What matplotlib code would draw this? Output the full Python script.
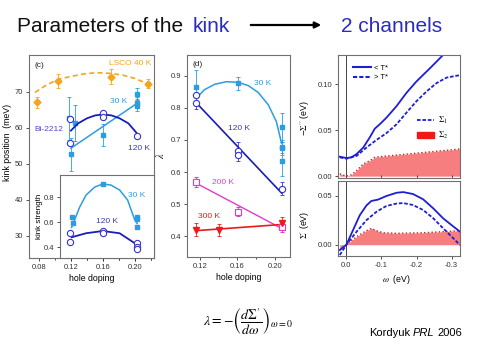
import numpy as np
import matplotlib
matplotlib.use('Agg')
from matplotlib import pyplot as plt
from matplotlib.lines import Line2D
from matplotlib.patches import Patch, FancyArrowPatch
from matplotlib.ticker import FormatStrFormatter, MultipleLocator

plt.rcParams['font.family'] = ['Liberation Sans', 'DejaVu Sans']
plt.rcParams['mathtext.fontset'] = 'stix'
plt.rcParams['axes.unicode_minus'] = False

# ---- panel (c): kink position vs doping ----
lsco_x = [0.077, 0.104, 0.170, 0.216]
lsco_y = [67.1, 73.0, 74.2, 72.2]
lsco_err = [1.5, 2.0, 2.0, 1.3]
lsco_fit_x = [0.075, 0.0896, 0.104, 0.119, 0.135, 0.152, 0.169, 0.185, 0.200, 0.215]
lsco_fit_y = [69.8, 71.9, 73.4, 74.2, 74.9, 75.3, 75.1, 74.6, 73.7, 72.3]

pos120_x = [0.119, 0.119, 0.16, 0.16, 0.203]
pos120_y = [62.5, 55.7, 64.0, 62.9, 57.8]
pos120_fit_x = [0.12, 0.129, 0.140, 0.150, 0.160, 0.171, 0.181, 0.192, 0.202]
pos120_fit_y = [59.2, 61.2, 62.6, 63.4, 63.7, 63.4, 62.6, 61.2, 58.6]

pos30_x = [0.118, 0.120, 0.125, 0.160, 0.203, 0.203, 0.203]
pos30_y = [62.6, 52.6, 61.2, 58.0, 69.4, 66.9, 66.1]
pos30_err = [6.0, 4.5, 5.0, 3.0, 1.5, 1.5, 1.5]
pos30_fit_x = [0.120, 0.203]
pos30_fit_y = [54.3, 66.8]

# inset: kink strength
str30_x = [0.121, 0.123, 0.160, 0.203, 0.203, 0.203]
str30_y = [0.64, 0.597, 0.906, 0.645, 0.626, 0.565]
str30_fit_x = [0.121, 0.131, 0.139, 0.150, 0.160, 0.170, 0.181, 0.191, 0.200, 0.203]
str30_fit_y = [0.558, 0.72, 0.817, 0.882, 0.906, 0.898, 0.858, 0.778, 0.618, 0.59]
str120_x = [0.119, 0.119, 0.160, 0.160, 0.203, 0.203, 0.203]
str120_y = [0.512, 0.44, 0.53, 0.515, 0.438, 0.405, 0.386]
str120_fit_x = [0.121, 0.139, 0.160, 0.181, 0.200, 0.203]
str120_fit_y = [0.48, 0.512, 0.53, 0.512, 0.432, 0.425]

# ---- panel (d): lambda vs doping ----
lam30_x = [0.1165, 0.161, 0.207, 0.207, 0.207, 0.207]
lam30_y = [0.866, 0.876, 0.739, 0.679, 0.674, 0.633]
lam30_err = [0.05, 0.02, 0.045, 0.02, 0.02, 0.045]
lam30_fit_x = [0.1165, 0.125, 0.136, 0.1485, 0.161, 0.1715, 0.182, 0.193, 0.2015, 0.207]
lam30_fit_y = [0.83, 0.856, 0.873, 0.881, 0.879, 0.869, 0.848, 0.809, 0.757, 0.69]
lam120_x = [0.1165, 0.1165, 0.161, 0.161, 0.207]
lam120_y = [0.839, 0.815, 0.664, 0.654, 0.548]
lam120_err = [0.0, 0.02, 0.03, 0.0, 0.02]
lam120_fit_x = [0.1165, 0.207]
lam120_fit_y = [0.815, 0.535]
lam200_x = [0.1165, 0.161, 0.207]
lam200_y = [0.57, 0.477, 0.428]
lam200_fit_x = [0.1165, 0.207]
lam200_fit_y = [0.565, 0.425]
lam300_x = [0.1165, 0.1405, 0.207]
lam300_y = [0.421, 0.42, 0.441]
lam300_fit_x = [0.1165, 0.207]
lam300_fit_y = [0.418, 0.437]

# ---- right: self-energy ----
im_lo_w = [0.019, 0.0, -0.014, -0.029, -0.048, -0.067, -0.081, -0.095, -0.114, -0.143,
           -0.171, -0.2, -0.238, -0.271, -0.29]
im_lo = [0.0211, 0.0197, 0.0204, 0.024, 0.031, 0.0423, 0.0516, 0.0563, 0.0634, 0.076,
         0.0903, 0.1029, 0.117, 0.1297, 0.137]
im_hi_w = [0.019, 0.0, -0.029, -0.057, -0.086, -0.114, -0.143, -0.171, -0.2, -0.229,
           -0.257, -0.286, -0.319, -0.324]
im_hi = [0.0204, 0.019, 0.022, 0.031, 0.0394, 0.0466, 0.0563, 0.0688, 0.0814, 0.0921,
         0.101, 0.107, 0.1093, 0.1095]
im_s2_w = [0.019, 0.0, -0.014, -0.029, -0.048, -0.067, -0.081, -0.095, -0.324]
im_s2 = [0.0025, 0.0, 0.0014, 0.006, 0.0133, 0.0168, 0.0204, 0.0211, 0.0295]

re_lo_w = [0.019, 0.0, -0.019, -0.038, -0.057, -0.071, -0.09, -0.114, -0.143, -0.162,
           -0.19, -0.219, -0.248, -0.276, -0.3, -0.324]
re_lo = [-0.0054, 0.0, 0.015, 0.030, 0.040, 0.0446, 0.046, 0.0497, 0.053, 0.0537,
         0.0517, 0.0463, 0.037, 0.0269, 0.020, 0.0133]
re_hi_w = [0.019, 0.0, -0.029, -0.057, -0.086, -0.114, -0.143, -0.162, -0.19, -0.219,
           -0.248, -0.276, -0.305, -0.324]
re_hi = [-0.0105, 0.0, 0.0133, 0.025, 0.0337, 0.0395, 0.042, 0.0425, 0.0405, 0.0354,
         0.0269, 0.0167, 0.0065, -0.0003]
re_s2_w = [0.019, 0.0, -0.029, -0.057, -0.071, -0.086, -0.105, -0.143, -0.219, -0.276, -0.324]
re_s2 = [-0.0054, 0.0, 0.0082, 0.0143, 0.0167, 0.0143, 0.0122, 0.0116, 0.0122, 0.0133, 0.0143]

ORANGE = '#f4a41e'
LBLUE = '#2b9de0'
DBLUE = '#1c1cb8'
CIRC = '#3535c8'
MAG = '#e03cc8'
RED = '#ee1a1a'
BLUE = '#1e1ed2'
FILL = '#f77e7e'
SPINE = '#707070'
TS = 5.5   # tick size
LS = 6.3   # label size


def style(ax):
    for s in ax.spines.values():
        s.set_color(SPINE)
        s.set_linewidth(0.8)
    ax.tick_params(which='both', direction='out', labelsize=TS, colors='#333333',
                   width=0.6, length=2.5, pad=1.5)
    ax.tick_params(which='minor', length=1.5)


def px_ax(x0, y0, x1, y1):
    return [x0 / 480, 1 - y1 / 360, (x1 - x0) / 480, (y1 - y0) / 360]


fig = plt.figure(figsize=(4.8, 3.6), dpi=100)
fig.patch.set_facecolor('white')

# title
fig.text(17 / 480, 1 - 32 / 360, 'Parameters of the', fontsize=15, color='#111111', va='baseline')
fig.text(193 / 480, 1 - 32 / 360, 'kink', fontsize=15, color='#2b2bc0', va='baseline')
fig.text(341 / 480, 1 - 32 / 360, '2 channels', fontsize=15, color='#2b2bc0', va='baseline')
fig.add_artist(FancyArrowPatch((248 / 480, 1 - 25 / 360), (324 / 480, 1 - 25 / 360),
                               transform=fig.transFigure, arrowstyle='-|>',
                               mutation_scale=9, lw=1.6, color='k'))

# ---- (c) ----
axc = fig.add_axes(px_ax(29, 55, 154, 258))
style(axc)
axc.set_xlim(0.0675, 0.224)
axc.set_ylim(23.8, 80.2)
axc.set_xticks([0.08, 0.12, 0.16, 0.20])
axc.xaxis.set_minor_locator(MultipleLocator(0.02))
axc.xaxis.set_major_formatter(FormatStrFormatter('%.2f'))
axc.set_yticks([30, 40, 50, 60, 70])
axc.errorbar(lsco_x, lsco_y, yerr=lsco_err, fmt='D', color=ORANGE, ms=3.5, elinewidth=0.6,
             capsize=1.5, capthick=0.6, zorder=3)
axc.plot(lsco_fit_x, lsco_fit_y, '--', color=ORANGE, lw=1.2, dashes=(3, 2))
axc.errorbar(pos30_x, pos30_y, yerr=pos30_err, fmt='s', color=LBLUE, ms=3.3, elinewidth=0.6,
             capsize=1.5, capthick=0.6, zorder=3)
axc.plot(pos30_fit_x, pos30_fit_y, '-', color=LBLUE, lw=1.1, zorder=4)
axc.plot(pos120_fit_x, pos120_fit_y, '-', color=DBLUE, lw=1.3, zorder=4)
axc.plot(pos120_x, pos120_y, 'o', mfc='white', mec=CIRC, ms=4.5, mew=0.8, zorder=5)
axc.text(0.074, 77.4, '(c)', fontsize=6, color='#222222', va='center')
axc.text(0.221, 77.7, 'LSCO 40 K', fontsize=6, color=ORANGE, ha='right', va='center')
axc.text(0.18, 67.2, '30 K', fontsize=6, color=LBLUE, ha='center', va='center')
axc.text(0.0925, 59.4, 'Bi-2212', fontsize=6, color='#5448cc', ha='center', va='center')
axc.text(0.205, 54.1, '120 K', fontsize=6, color='#3a3ab0', ha='center', va='center')
axc.set_xlabel('hole doping', fontsize=LS)
axc.xaxis.set_label_coords(0.5, -0.08)
axc.set_ylabel('kink position  (meV)', fontsize=LS)
axc.yaxis.set_label_coords(-0.135, 0.57)

# inset
axi = fig.add_axes(px_ax(60, 175, 154, 258))
style(axi)
axi.set_facecolor('white')
axi.set_xlim(0.1065, 0.224)
axi.set_ylim(0.314, 0.978)
axi.set_xticks([0.12, 0.16, 0.20])
axi.xaxis.set_minor_locator(MultipleLocator(0.02))
axi.tick_params(axis='x', labelbottom=False)
axi.set_yticks([0.4, 0.6, 0.8])
axi.yaxis.set_major_formatter(FormatStrFormatter('%.1f'))
axi.plot(str30_fit_x, str30_fit_y, '-', color=LBLUE, lw=1.1)
axi.plot(str30_x, str30_y, 's', color=LBLUE, ms=3.3)
axi.plot(str120_fit_x, str120_fit_y, '-', color=DBLUE, lw=1.3)
axi.plot(str120_x, str120_y, 'o', mfc='white', mec=CIRC, ms=4.5, mew=0.8)
axi.text(0.2025, 0.818, '30 K', fontsize=6, color=LBLUE, ha='center', va='center')
axi.text(0.165, 0.605, '120 K', fontsize=6, color='#3a3ab0', ha='center', va='center')
axi.set_ylabel('kink strength', fontsize=LS - 0.5, labelpad=1)

# ---- (d) ----
axd = fig.add_axes(px_ax(187, 55, 290, 257))
style(axd)
axd.set_xlim(0.1065, 0.216)
axd.set_ylim(0.336, 0.964)
axd.set_xticks([0.12, 0.16, 0.20])
axd.xaxis.set_minor_locator(MultipleLocator(0.02))
axd.xaxis.set_major_formatter(FormatStrFormatter('%.2f'))
axd.set_yticks([0.4, 0.5, 0.6, 0.7, 0.8, 0.9])
axd.yaxis.set_major_formatter(FormatStrFormatter('%.1f'))
axd.errorbar(lam30_x, lam30_y, yerr=lam30_err, fmt='s', color=LBLUE, ms=3.3, elinewidth=0.6,
             capsize=1.5, capthick=0.6, zorder=3)
axd.plot(lam30_fit_x, lam30_fit_y, '-', color=LBLUE, lw=1.1, zorder=4)
axd.errorbar(lam120_x, lam120_y, yerr=lam120_err, fmt='none', ecolor=CIRC, elinewidth=0.6,
             capsize=1.5, capthick=0.6)
axd.plot(lam120_fit_x, lam120_fit_y, '-', color=DBLUE, lw=1.2, zorder=4)
axd.plot(lam120_x, lam120_y, 'o', mfc='white', mec=CIRC, ms=4.5, mew=0.8, zorder=5)
axd.errorbar(lam200_x, lam200_y, yerr=0.015, fmt='s', mfc='white', mec=MAG, ecolor=MAG, ms=4,
             mew=0.8, elinewidth=0.6, capsize=1.5, capthick=0.6, zorder=3)
axd.plot(lam200_fit_x, lam200_fit_y, '-', color=MAG, lw=1.0, zorder=2)
axd.errorbar(lam300_x, lam300_y, yerr=0.02, fmt='v', color=RED, ms=5, elinewidth=0.6,
             capsize=1.5, capthick=0.6, zorder=3)
axd.plot(lam300_fit_x, lam300_fit_y, '-', color=RED, lw=1.2, zorder=2)
axd.text(0.1125, 0.936, '(d)', fontsize=6, color='#222222', va='center')
axd.text(0.187, 0.874, '30 K', fontsize=6, color=LBLUE, ha='center', va='center')
axd.text(0.162, 0.735, '120 K', fontsize=6, color='#3a3ab0', ha='center', va='center')
axd.text(0.1445, 0.568, '200 K', fontsize=6, color=MAG, ha='center', va='center')
axd.text(0.1296, 0.462, '300 K', fontsize=6, color=RED, ha='center', va='center')
axd.set_xlabel('hole doping', fontsize=LS)
axd.xaxis.set_label_coords(0.5, -0.08)
axd.set_ylabel(r'$\lambda$', fontsize=LS + 1)
axd.yaxis.set_label_coords(-0.2, 0.5)

# ---- right: -Sigma'' ----
axt = fig.add_axes(px_ax(338, 55, 460, 178))
style(axt)
axt.set_xlim(0.024, -0.324)
axt.set_ylim(-0.002, 0.1315)
axt.set_xticks([0.0, -0.1, -0.2, -0.3])
axt.tick_params(axis='x', labelbottom=False, direction='in')
axt.set_yticks([0.0, 0.05, 0.10])
axt.yaxis.set_major_formatter(FormatStrFormatter('%.2f'))
axt.fill_between(im_s2_w, 0, im_s2, color=FILL, lw=0)
axt.plot(im_s2_w, im_s2, ':', color='#cc2020', lw=1.0)
axt.axvline(0, color='#444444', lw=0.7)
axt.plot(im_lo_w, im_lo, '-', color=BLUE, lw=1.3)
axt.plot(im_hi_w, im_hi, '--', color=BLUE, lw=1.3, dashes=(2, 1))
leg1 = axt.legend([Line2D([], [], color=BLUE, lw=1.5),
                   Line2D([], [], color=BLUE, lw=1.5, ls='--', dashes=(2, 1))],
                  ['< T*', '> T*'], loc='upper left', bbox_to_anchor=(0.1, 0.95),
                  frameon=False, fontsize=5.5, handlelength=2.3, handletextpad=0.4,
                  labelspacing=0.3, borderaxespad=0)
axt.add_artist(leg1)
axt.legend([Line2D([], [], color=BLUE, lw=1.3, ls='--', dashes=(2, 1)),
            Patch(color='#f01818')],
           [r'$\Sigma_1$', r'$\Sigma_2$'], loc='upper left', bbox_to_anchor=(0.62, 0.54),
           frameon=False, fontsize=6, handlelength=2.0, handletextpad=0.5,
           labelspacing=0.5, borderaxespad=0)
axt.set_ylabel(r"$-\Sigma''$ (eV)", fontsize=LS)
axt.yaxis.set_label_coords(-0.21, 0.49)

# ---- right: Sigma' ----
axb = fig.add_axes(px_ax(338, 181, 460, 256))
style(axb)
axb.set_xlim(0.024, -0.324)
axb.set_ylim(-0.0115, 0.065)
axb.set_xticks([0.0, -0.1, -0.2, -0.3])
axb.xaxis.set_major_formatter(FormatStrFormatter('%.1f'))
axb.set_yticks([0.0, 0.05])
axb.yaxis.set_major_formatter(FormatStrFormatter('%.2f'))
axb.fill_between(re_s2_w, 0, re_s2, color=FILL, lw=0)
axb.plot(re_s2_w, re_s2, ':', color='#cc2020', lw=1.0)
axb.axvline(0, color='#444444', lw=0.7)
axb.plot(re_lo_w, re_lo, '-', color=BLUE, lw=1.3)
axb.plot(re_hi_w, re_hi, '--', color=BLUE, lw=1.3, dashes=(2, 1))
axb.set_ylabel(r"$\Sigma'$ (eV)", fontsize=LS)
axb.yaxis.set_label_coords(-0.21, 0.42)
axb.set_xlabel(r'$\omega$  (eV)', fontsize=LS)
axb.xaxis.set_label_coords(0.48, -0.22)

# formula + reference
fig.text(248 / 480, 1 - 322 / 360,
         r"$\lambda = -\left(\dfrac{d\Sigma'}{d\omega}\right)_{\omega=0}$",
         fontsize=10, ha='center', va='center')
t1 = fig.text(369 / 480, 1 - 336 / 360, 'Kordyuk', fontsize=8, va='baseline')
t2 = fig.text(0, 0, 'PRL', fontsize=8, style='italic', va='baseline')
t3 = fig.text(0, 0, '2006', fontsize=8, va='baseline')
fig.canvas.draw()
r = fig.canvas.get_renderer()
inv = fig.transFigure.inverted()
b1 = inv.transform(t1.get_window_extent(r))
t2.set_position((b1[1, 0] + 3 / 480, 1 - 336 / 360))
b2 = inv.transform(t2.get_window_extent(r))
t3.set_position((b2[1, 0] + 3 / 480, 1 - 336 / 360))

fig.savefig('out.png', dpi=100)
